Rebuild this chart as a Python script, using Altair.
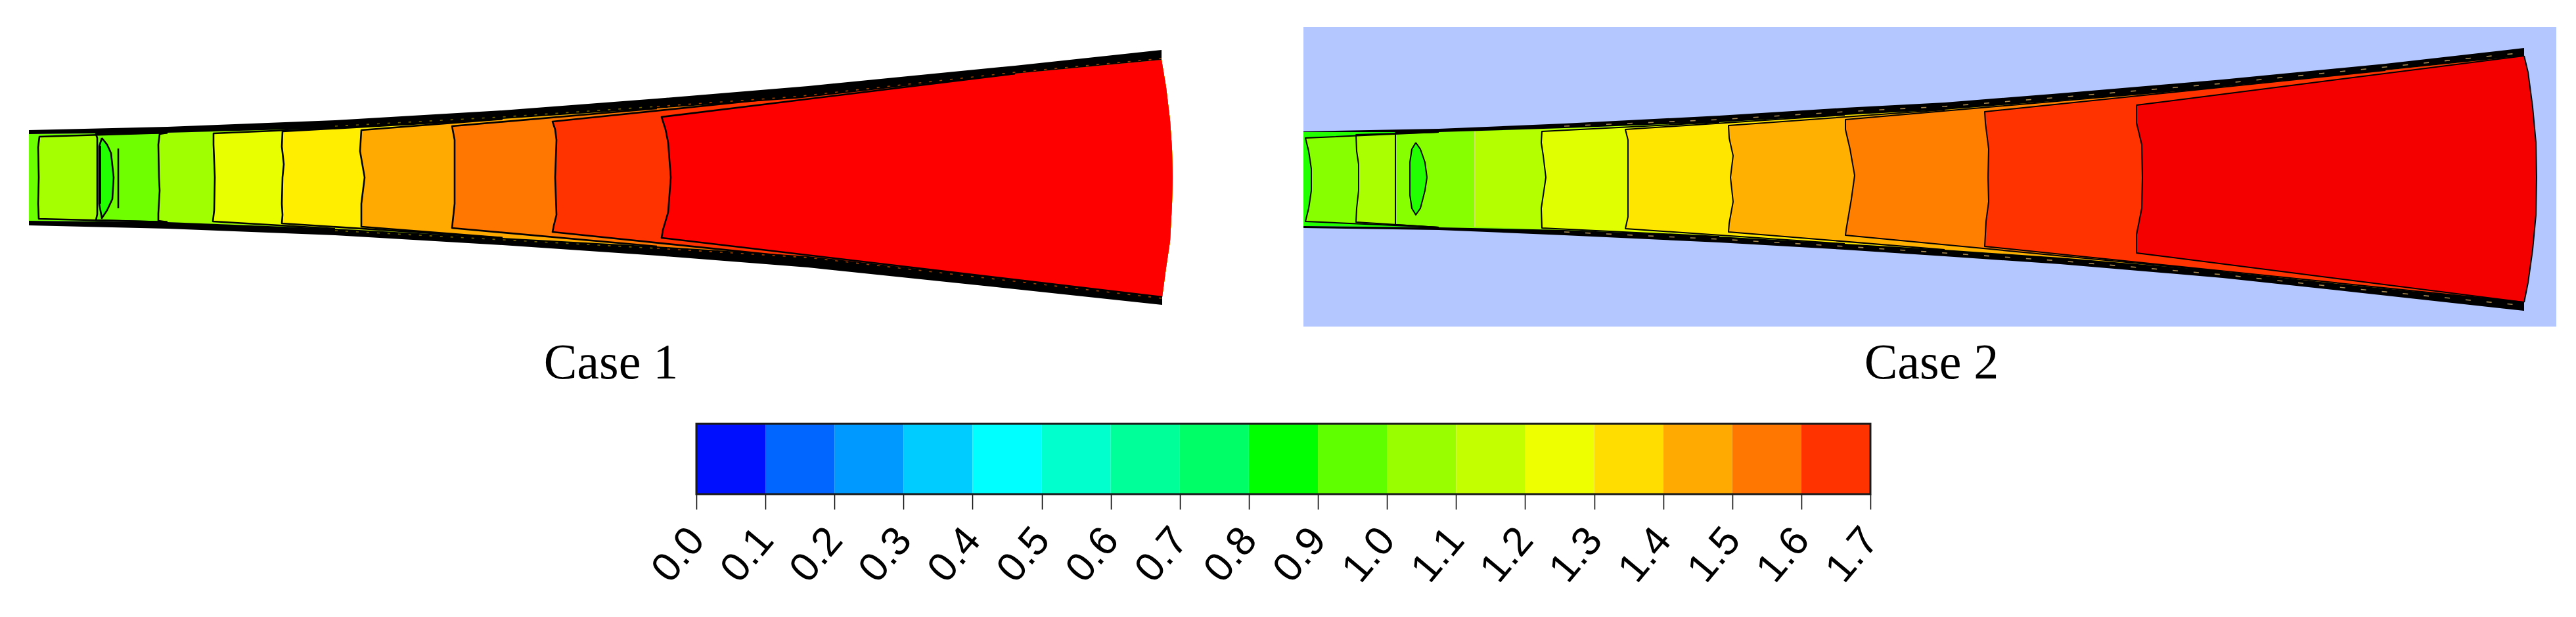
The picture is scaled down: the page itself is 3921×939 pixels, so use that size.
import altair as alt

# ---- reference-pixel geometry ----
C1_TOP_OUTER = [(44,198),(255,193),(510,183),(765,168),(1000,150),(1230,131),(1545,100),(1768,76)]
C1_TOP_BLACK = [(44,204),(255,202),(510,195),(765,181),(1000,165),(1212,150),(1545,112),(1768,91)]
C1_BOT_BLACK = [(44,336),(255,338),(510,348),(765,362),(1000,375),(1230,390),(1517,423),(1769,452)]
C1_BOT_OUTER = [(44,343),(255,348),(510,358),(765,373),(1000,389),(1230,407),(1517,437),(1769,464)]
C1_ARC = [(1769,452),(1775,407),(1781,367),(1784,310),(1785,270),(1784,227),(1781,183),(1775,133),(1768,91)]
C1_BASE = "#6cff00"
C1_COLORS = ["#a6ff00","#70ff00","#a0ff00","#e8ff00","#ffee00","#ffaa00","#ff7700","#ff3300","#ff0000"]
C1_MERGE = [146,150,250,430,560,720,950,1250,1545]
C1_BOUNDS = [
    [(60,208),(58,224),(59,270),(58,310),(59,333)],
    [(146,204),(148,210),(148,270),(148,326),(146,335)],
    [(243,204),(241,220),(242,270),(243,290),(241,325),(241,336)],
    [(325,203),(325,220),(327,270),(326,320),(324,337)],
    [(430,200),(429,223),(432,250),(430,270),(429,310),(430,327),(429,340)],
    [(550,198),(548,230),(555,270),(550,310),(550,345)],
    [(688,192),(692,213),(692,270),(692,310),(688,347)],
    [(841,185),(845,197),(847,213),(845,270),(847,327),(843,343),(841,353)],
    [(1007,178),(1013,197),(1017,217),(1021,270),(1017,323),(1009,350),(1007,362)],
]
C1_LENS = [(155,210),(163,220),(169,233),(173,270),(171,303),(163,320),(155,332),(151,310),(151,223)]
C1_BAR = [(180,226),(180,317)]
C1_THICK = [(152,222),(152,310)]
C1_SPECK_L = [[(510,192),(765,178),(1000,162)], [(510,351),(765,365),(1000,378)]]
C1_SPECK_R = [[(1000,162),(1212,147),(1545,110),(1768,89)], [(1000,378),(1230,392),(1517,425),(1769,454)]]

C2_TOP_OUTER = [(1984,200),(2190,196),(2381,188),(2617,176),(2808,164),(2960,156),(3136,142),(3383,121),(3631,97),(3842,73)]
C2_TOP_BLACK = [(1984,201),(2190,201),(2381,195),(2617,186),(2808,175),(2960,167),(3136,153),(3383,132),(3631,107),(3842,85)]
C2_BOT_BLACK = [(1984,344),(2190,346),(2381,350),(2617,360),(2808,371),(2960,380),(3136,392),(3383,413),(3569,433),(3842,460)]
C2_BOT_OUTER = [(1984,347),(2190,350),(2381,358),(2617,369),(2808,380),(2960,390),(3136,402),(3383,423),(3569,443),(3842,473)]
C2_ARC = [(3842,460),(3848,430),(3855,380),(3860,327),(3861,270),(3860,217),(3855,163),(3848,110),(3842,85)]
C2_SPECK = [[(2381,192),(2617,182),(2808,170),(2960,162),(3136,148),(3383,127),(3631,102),(3842,80)],
            [(2381,353),(2617,364),(2808,375),(2960,385),(3136,397),(3383,418),(3569,438),(3842,465)]]
C2_BASE = "#22ff00"
C2_COLORS = ["#88ff00","#aaff00","#88ff00","#b4ff00","#e0ff00","#ffe600","#ffb000","#ff8000","#ff3300","#f50000"]
C2_MERGE = [2060,2120,2130,2250,2500,2750,2950,3250,3600,3842]
C2_BOUNDS = [
    [(1987,210),(1992,230),(1996,257),(1996,290),(1992,317),(1987,337)],
    [(2064,205),(2065,230),(2068,250),(2068,290),(2065,317),(2064,338)],
    [(2124,202),(2124,270),(2124,342)],
    [(2245,200),(2245,270),(2245,345)],
    [(2347,200),(2346,217),(2349,237),(2353,270),(2349,297),(2346,317),(2347,347)],
    [(2474,197),(2478,213),(2478,270),(2478,330),(2474,348)],
    [(2631,191),(2632,210),(2638,237),(2634,270),(2638,307),(2632,340),(2631,353)],
    [(2809,182),(2809,197),(2816,227),(2823,267),(2818,303),(2810,350),(2809,358)],
    [(3021,170),(3022,187),(3027,227),(3026,270),(3027,307),(3023,337),(3021,375)],
    [(3252,160),(3252,187),(3260,220),(3261,270),(3260,317),(3252,357),(3252,385)],
]
C2_PALE = [3]
C2_LENS = [(2155,217),(2149,227),(2146,247),(2146,297),(2149,317),(2155,327),(2162,317),(2169,290),(2172,270),(2169,247),(2162,227)]

BG_X = [1984, 3891]
BG_Y = [41, 497]
BG_COLOR = "#b4c7ff"

TICKS = [0.0,0.1,0.2,0.3,0.4,0.5,0.6,0.7,0.8,0.9,1.0,1.1,1.2,1.3,1.4,1.5,1.6,1.7]
BAR_COLORS = ["#0010ff","#0066ff","#0099ff","#00ccff","#00ffff","#00ffcc","#00ff99","#00ff66","#00ff00",
              "#5fff00","#99ff00","#c4ff00","#eeff00","#ffdd00","#ffaa00","#ff7700","#ff3300"]
BAR_Y = [645, 752]
LABELS = [("Case 1", 930, 553), ("Case 2", 2940, 553)]

W, H = 3905, 923
X = alt.X("x:Q", scale=alt.Scale(domain=[8, 3913], nice=False, zero=False), axis=None)
Y = alt.Y("y:Q", scale=alt.Scale(domain=[931, 8], nice=False, zero=False), axis=None)


def poly(points, color):
    vals = [{"x": p[0], "y": p[1], "i": i} for i, p in enumerate(points)]
    return alt.Chart(alt.Data(values=vals)).mark_line(fill=color, strokeOpacity=0, strokeWidth=0).encode(
        x=X, y=Y, order=alt.Order("i:Q"))


def path(points, color="#000000", width=2.5, dash=None):
    vals = [{"x": p[0], "y": p[1], "i": i} for i, p in enumerate(points)]
    kw = {"strokeDash": dash} if dash else {}
    return alt.Chart(alt.Data(values=vals)).mark_line(color=color, strokeWidth=width, strokeJoin="round", **kw).encode(
        x=X, y=Y, order=alt.Order("i:Q"))


def edge(end, merge, wall):
    return [end] + [p for p in wall if p[0] >= merge]


def case(top_outer, top_black, bot_black, bot_outer, arc, base, colors, merges, bounds,
         lens, lw, arc_stroke, pale=()):
    fills, lines = [], []
    fills.append(poly(top_black + arc[1:-1][::-1] + bot_black[::-1], base))
    for k, b in enumerate(bounds):
        t = edge(b[0], merges[k], top_black)
        u = edge(b[-1], merges[k], bot_black)
        shape = b + u[1:] + arc[1:-1] + t[1:][::-1]
        fills.append(poly(shape, colors[k]))
        if k in pale:
            lines.append(path(b, "#cfe06a", lw))
        else:
            lines.append(path(t[:2][::-1] + b + u[1:2], "#000000", lw))
    fills.append(poly(lens, "#22ff00"))
    lines.append(path(lens + lens[:1], "#000000", lw))
    walls = [poly(top_outer + top_black[::-1], "#000000"),
             poly(bot_outer + bot_black[::-1], "#000000")]
    if arc_stroke:
        lines.append(path(arc, "#000000", lw))
    return fills + walls + lines


layers = []
bg_vals = [{"x": BG_X[0], "x2": BG_X[1], "y": BG_Y[0], "y2": BG_Y[1]}]
layers.append(alt.Chart(alt.Data(values=bg_vals)).mark_rect(color=BG_COLOR).encode(x=X, x2="x2:Q", y=Y, y2="y2:Q"))
layers += case(C1_TOP_OUTER, C1_TOP_BLACK, C1_BOT_BLACK, C1_BOT_OUTER, C1_ARC, C1_BASE, C1_COLORS, C1_MERGE,
               C1_BOUNDS, C1_LENS, 2.6, False)
layers.append(path(C1_BAR, "#000000", 2.6))
layers.append(path(C1_THICK, "#000000", 4))
layers += [path(s, "#6f6200", 1.6, [4, 12]) for s in C1_SPECK_L]
layers += [path(s, "#a04000", 1.6, [4, 12]) for s in C1_SPECK_R]
layers += case(C2_TOP_OUTER, C2_TOP_BLACK, C2_BOT_BLACK, C2_BOT_OUTER, C2_ARC, C2_BASE, C2_COLORS, C2_MERGE,
               C2_BOUNDS, C2_LENS, 2.0, True, C2_PALE)
layers += [path(s, "#a88a50", 1.6, [8, 24]) for s in C2_SPECK]

# colour bar on its own value scale, with a real axis
XB_SCALE = alt.Scale(domain=[TICKS[0], TICKS[-1]], range=[1060 - 8, 2847 - 8], nice=False, zero=False)
bar_vals = [{"lo": TICKS[i], "hi": TICKS[i + 1], "c": BAR_COLORS[i], "y": BAR_Y[0], "y2": BAR_Y[1]}
            for i in range(len(BAR_COLORS))]
bar_axis = alt.Axis(values=TICKS, format=".1f", orient="bottom", offset=-(931 - BAR_Y[1]), domain=False, grid=False,
                    tickSize=23, tickWidth=1.5, tickColor="#000000", labelAngle=-50, labelAlign="right",
                    labelBaseline="middle", labelFont="Liberation Sans", labelFontSize=62, labelColor="#000000",
                    labelPadding=36, labelOverlap=False, title=None, labelFlush=False, labelBound=False)
layers.append(alt.Chart(alt.Data(values=bar_vals)).mark_rect(strokeWidth=0).encode(
    x=alt.X("lo:Q", scale=XB_SCALE, axis=bar_axis), x2="hi:Q", y=Y, y2="y2:Q",
    fill=alt.Fill("c:N", scale=None)))
frame_vals = [{"lo": TICKS[0], "hi": TICKS[-1], "y": BAR_Y[0], "y2": BAR_Y[1]}]
layers.append(alt.Chart(alt.Data(values=frame_vals)).mark_rect(fillOpacity=0, stroke="#1a1a1a", strokeWidth=3).encode(
    x=alt.X("lo:Q", scale=XB_SCALE, axis=None), x2="hi:Q", y=Y, y2="y2:Q"))

lab_vals = [{"t": t, "x": x, "y": y} for t, x, y in LABELS]
layers.append(alt.Chart(alt.Data(values=lab_vals)).mark_text(font="Liberation Serif", fontSize=76, color="#000000").encode(
    x=X, y=Y, text="t:N"))

chart = (alt.layer(*layers)
         .resolve_scale(x="independent", y="shared")
         .properties(width=W, height=H, padding=0, autosize=alt.AutoSizeParams(type="none"), background="#ffffff")
         .configure_view(stroke=None))
chart.save("out.html", embed_options={"renderer": "svg", "actions": False})
